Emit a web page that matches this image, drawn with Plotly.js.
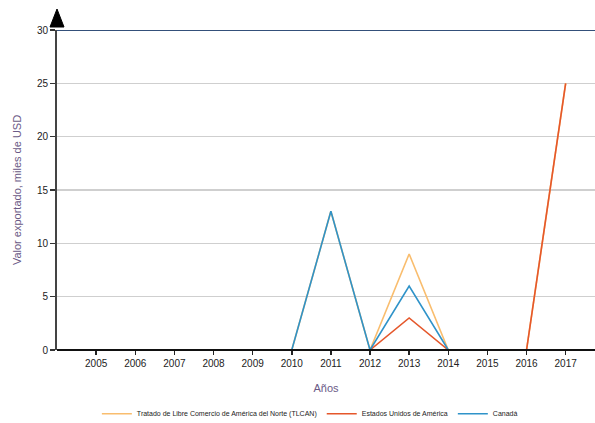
<!DOCTYPE html>
<html>
<head>
<meta charset="utf-8">
<script src="https://cdn.plot.ly/plotly-3.0.1.min.js"></script>
<style>html,body{margin:0;padding:0;background:#fff;}#chart{width:595px;height:423px;}</style>
</head>
<body>
<div id="chart"></div>
<script>
const years = [2005, 2006, 2007, 2008, 2009, 2010, 2011, 2012, 2013, 2014, 2015, 2016, 2017];
const tickLabels = ["2005","2006","2007","2008","2009","2010","2011","2012","2013","2014","2015","2016","2017"];
const seriesNames = ["Tratado de Libre Comercio de América del Norte (TLCAN)", "Estados Unidos de América", "Canadá"];
const tlcan  = [null, null, null, null, null, 0, 13, 0, 9, 0, null, 0, 25];
const usa    = [null, null, null, null, null, null, null, 0, 3, 0, null, 0, 25];
const canada = [null, null, null, null, null, 0, 13, 0, 6, 0, null, null, null];
const colors = ["#f9bd6e", "#e5572b", "#2f93c9"];
const yTicks = [0, 5, 10, 15, 20, 25, 30];

const font = "'Liberation Sans Narrow', 'Arial Narrow', 'Liberation Sans', Arial, sans-serif";

const traces = [tlcan, usa, canada].map((vals, i) => ({
  x: years, y: vals, name: seriesNames[i], type: 'scatter', mode: 'lines',
  line: {color: colors[i], width: 1.6}, connectgaps: false, hoverinfo: 'skip'
}));

const layout = {
  width: 595, height: 423,
  margin: {l: 57, r: 0, t: 30, b: 73},
  paper_bgcolor: '#fff', plot_bgcolor: '#fff',
  showlegend: true,
  legend: {orientation: 'h', x: 0.47, xanchor: 'center', yref: 'container', y: 0.022, yanchor: 'middle',
           font: {family: font, size: 7, color: '#222'}, itemwidth: 30, tracegroupgap: 0},
  xaxis: {
    range: [2004, 2017.75], tickvals: years, ticktext: tickLabels, automargin: false,
    ticks: 'outside', ticklen: 4, tickwidth: 1.5, tickcolor: '#222',
    showgrid: false, zeroline: false, showline: false,
    tickfont: {family: font, size: 10, color: '#222'},
    title: {text: 'Años', font: {family: font, size: 11, color: '#6b5a86'}, standoff: 16}
  },
  yaxis: {
    range: [0, 30], tickvals: yTicks, automargin: false,
    ticks: 'outside', ticklen: 5, tickwidth: 1.5, tickcolor: '#333',
    showgrid: true, gridcolor: '#cfcfcf', gridwidth: 1.5,
    zeroline: false, showline: true, linecolor: '#444', linewidth: 2,
    tickfont: {family: font, size: 10, color: '#222'},
    title: {text: 'Valor exportado, miles de USD', font: {family: font, size: 11, color: '#6b5a86'}, standoff: 13}
  },
  shapes: [
    {type: 'line', xref: 'paper', yref: 'paper', x0: 0, x1: 1, y0: 0, y1: 0, line: {color: '#111', width: 2}},
    {type: 'line', xref: 'paper', yref: 'y', x0: 0, x1: 1, y0: 30, y1: 30, line: {color: '#34507a', width: 2}},
    {type: 'path', xref: 'paper', yref: 'paper', xsizemode: 'pixel', ysizemode: 'pixel',
     xanchor: 0, yanchor: 1, path: 'M -7,3 L 7,3 L 0,21 Z', fillcolor: '#000', line: {color: '#000', width: 1}}
  ]
};

Plotly.newPlot('chart', traces, layout, {displayModeBar: false, staticPlot: true});
</script>
</body>
</html>
